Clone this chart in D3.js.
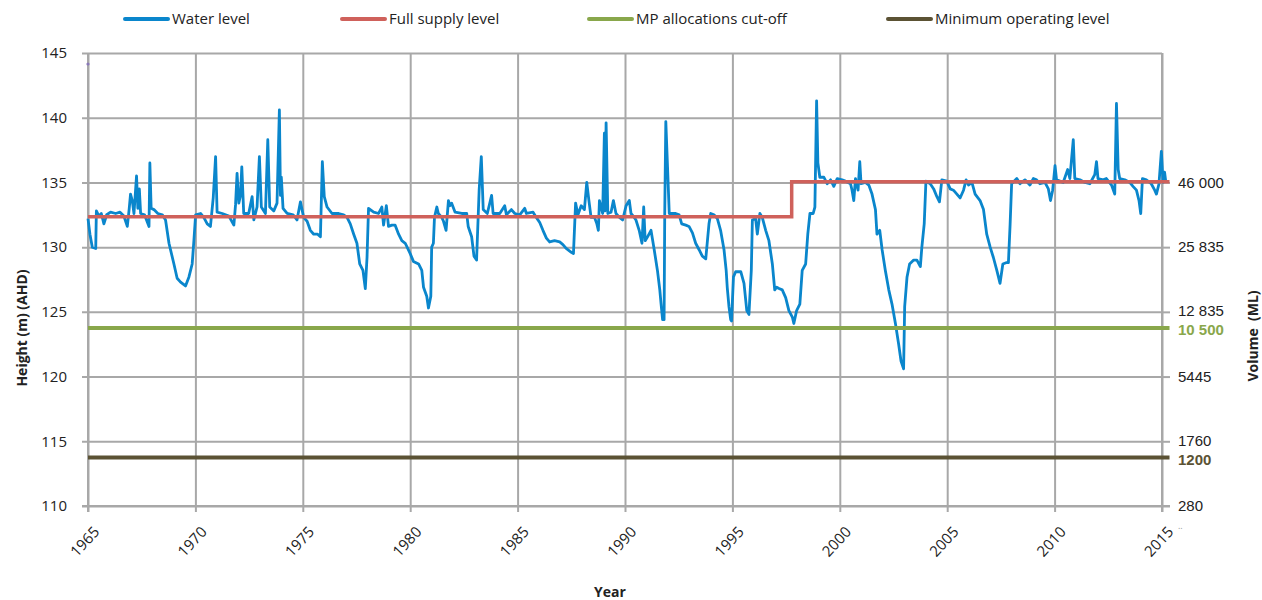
<!DOCTYPE html>
<html><head><meta charset="utf-8">
<script src="https://cdn.jsdelivr.net/npm/d3@7"></script>
<style>
body{margin:0;background:#fff;}
text{font-family:"Open Sans",sans-serif;fill:#222;}
</style>
</head><body>
<svg id="chart" width="1262" height="600"></svg>
<script>
// ---------- DATA ----------
const waterYear = [
1965.00,1965.09,1965.20,1965.36,1965.39,1965.51,1965.62,1965.74,1965.87,1966.05,1966.29,1966.49,1966.67,1966.83,1966.92,1966.98,1967.06,1967.14,1967.26,1967.32,1967.39,1967.45,1967.63,1967.84,1967.88,1967.94,1968.07,1968.25,1968.46,1968.61,1968.77,1969.00,1969.15,1969.31,1969.54,1969.70,1969.85,1969.93,1970.01,1970.24,1970.39,1970.55,1970.70,1970.83,1970.94,1971.01,1971.25,1971.56,1971.79,1971.87,1971.94,1972.02,1972.10,1972.16,1972.25,1972.48,1972.64,1972.72,1972.87,1972.98,1973.07,1973.26,1973.37,1973.46,1973.65,1973.80,1973.91,1973.96,1974.00,1974.08,1974.27,1974.55,1974.73,1974.89,1975.04,1975.20,1975.35,1975.51,1975.69,1975.82,1975.91,1976.00,1976.13,1976.36,1976.67,1976.90,1977.06,1977.21,1977.37,1977.52,1977.65,1977.80,1977.91,1977.99,1978.06,1978.30,1978.53,1978.68,1978.76,1978.89,1978.99,1979.15,1979.30,1979.46,1979.61,1979.77,
1980.00,1980.15,1980.39,1980.54,1980.62,1980.77,1980.85,1980.96,1981.00,1981.08,1981.13,1981.24,1981.31,1981.47,1981.55,1981.67,1981.78,1981.85,1981.93,1982.09,1982.40,1982.63,1982.70,1982.86,1982.97,1983.09,1983.17,1983.21,1983.31,1983.40,1983.59,1983.79,1983.86,1984.17,1984.40,1984.48,1984.71,1984.87,1985.10,1985.33,1985.41,1985.72,1985.87,1986.03,1986.18,1986.34,1986.49,1986.72,1986.96,1987.11,1987.26,1987.50,1987.60,1987.70,1987.81,1987.96,1988.11,1988.22,1988.32,1988.42,1988.58,1988.69,1988.76,1988.81,1988.96,1989.04,1989.07,1989.12,1989.20,1989.35,1989.46,1989.58,1989.74,1989.89,1990.05,1990.20,1990.28,1990.43,1990.51,1990.66,1990.79,1990.87,1990.94,1991.05,1991.21,1991.36,1991.51,1991.62,1991.68,1991.75,1991.82,1991.85,1991.90,1991.98,1992.06,1992.36,1992.52,1992.64,1992.83,1992.98,1993.14,1993.29,1993.45,1993.60,1993.76,1993.91,1993.99,1994.14,1994.30,1994.45,1994.61,1994.71,1994.76,1994.84,1994.92,1994.96,
1995.05,1995.15,1995.39,1995.54,1995.67,1995.77,1995.88,1995.93,1996.08,1996.16,1996.28,1996.39,1996.55,1996.70,1996.86,1996.97,1997.06,1997.17,1997.32,1997.48,1997.63,1997.79,1997.86,1997.99,1998.14,1998.25,1998.41,1998.51,1998.61,1998.76,1998.84,1998.92,1998.98,1999.07,1999.26,1999.41,1999.57,1999.72,1999.88,2000.11,2000.26,2000.50,2000.57,2000.65,2000.73,2000.85,2000.93,2000.99,2001.19,2001.35,2001.50,2001.66,2001.73,2001.86,2001.97,2002.12,2002.28,2002.43,2002.59,2002.74,2002.85,2002.97,2003.02,2003.13,2003.25,2003.44,2003.59,2003.75,2003.82,2003.93,2004.01,2004.21,2004.37,2004.52,2004.64,2004.75,2004.98,2005.14,2005.29,2005.45,2005.60,2005.76,2005.88,2005.99,2006.15,2006.30,2006.53,2006.69,2006.84,2007.00,2007.15,2007.31,2007.46,2007.59,2007.74,2007.85,2007.93,2008.00,2008.24,2008.39,2008.62,2008.85,2009.01,2009.16,2009.32,2009.55,2009.71,2009.81,2009.91,2010.02,2010.09,2010.40,2010.61,2010.71,2010.87,2010.94,2011.18,2011.41,2011.64,2011.87,2011.95,2012.02,2012.26,2012.41,2012.65,2012.80,2012.88,2012.96,2013.03,2013.27,2013.50,2013.65,2013.81,2013.93,2014.01,2014.09,2014.27,2014.50,2014.66,2014.74,2014.86,2014.97,2015.05,2015.12,2015.18
];
const waterLevel = [
132.2,131.0,130.0,129.9,132.8,132.4,132.6,131.8,132.5,132.7,132.6,132.7,132.4,131.6,133.0,134.1,133.6,132.6,135.5,133.0,134.5,132.6,132.5,131.6,136.5,133.0,132.9,132.6,132.5,132.1,130.3,128.7,127.6,127.3,127.0,127.7,128.7,130.5,132.5,132.6,132.3,131.8,131.6,133.8,137.0,132.7,132.6,132.4,131.7,133.3,135.7,133.4,134.0,136.2,132.6,132.6,133.9,132.1,133.1,137.0,133.1,132.6,138.3,133.1,132.8,133.4,140.6,134.0,135.4,133.0,132.6,132.5,132.1,133.5,132.3,132.0,131.3,131.0,131.0,130.8,136.6,133.9,133.1,132.6,132.6,132.5,132.3,131.8,131.0,130.3,128.7,128.2,126.8,129.2,133.0,132.7,132.6,133.1,131.7,133.2,131.6,131.7,131.7,131.0,130.5,130.3,
129.5,128.9,128.7,128.2,126.9,126.2,125.3,126.2,130.0,130.3,132.3,133.1,132.6,132.3,132.0,131.3,133.6,133.2,133.4,132.7,132.6,132.6,131.6,130.8,129.3,129.0,132.6,134.4,137.0,132.9,132.6,134.0,132.6,132.6,133.2,132.5,132.9,132.6,132.5,133.0,132.6,132.7,132.3,131.9,131.3,130.7,130.4,130.5,130.4,130.2,129.9,129.6,129.5,133.4,132.5,133.2,132.9,135.0,133.6,132.3,132.3,131.8,131.3,133.6,132.6,138.8,132.8,139.6,132.6,132.7,133.6,132.6,132.3,132.1,133.2,133.6,132.6,132.3,132.1,131.3,130.3,133.1,130.5,130.8,131.3,129.8,128.2,126.7,125.6,124.4,124.4,132.6,139.7,136.2,132.6,132.6,132.5,131.8,131.7,131.6,131.1,130.3,129.8,129.3,129.1,131.8,132.6,132.5,132.2,131.3,129.8,128.2,126.9,125.4,124.4,124.3,
127.7,128.1,128.1,127.2,125.1,124.8,128.2,132.1,132.2,131.0,132.6,132.3,131.3,130.5,128.7,126.7,126.9,126.8,126.7,126.1,125.1,124.6,124.1,125.1,125.6,128.2,128.7,131.0,132.6,132.6,133.1,141.3,136.5,135.4,135.4,134.9,135.2,134.7,135.3,135.2,135.1,134.9,134.4,133.6,135.3,134.4,136.6,134.9,135.0,134.8,134.1,132.9,131.0,131.3,129.8,128.2,126.7,125.6,124.1,122.5,121.2,120.6,125.4,127.7,128.7,129.0,129.0,128.5,130.0,131.8,135.1,134.9,134.5,133.9,133.5,135.2,135.1,134.5,134.4,134.1,133.8,134.4,135.2,134.8,135.0,134.1,133.6,132.9,131.0,130.0,129.2,128.2,127.2,128.7,128.8,128.8,131.8,134.9,135.3,134.9,135.2,134.8,135.3,135.2,134.9,135.0,134.5,133.6,134.4,136.3,135.2,135.0,136.0,135.3,138.3,135.3,135.2,135.0,134.9,135.6,136.6,135.3,135.2,135.3,134.8,134.1,141.1,136.0,135.3,135.2,135.0,134.7,134.4,133.6,132.6,135.3,135.2,134.9,134.4,134.1,134.9,137.4,135.0,135.8,135.0
];
const fslYear = [1965, 1997.76, 1997.76, 2015.35];
const fslLevel = [132.35, 132.35, 135.05, 135.05];
const refYear = [1965, 2015.35];
const cutoffLevel = [123.75, 123.75];
const minOpLevel = [113.75, 113.75];
const outlierYear = [1965.0];
const outlierLevel = [144.15];

const xTicks = [1965,1970,1975,1980,1985,1990,1995,2000,2005,2010,2015];
const yTicks = [110,115,120,125,130,135,140,145];
const volTickLevels = [110,115,120,125,130,135];
const volTickLabels = ["280","1760","5445","12 835","25 835","46 000"];
const volMarkLevels = [123.75, 113.75];
const volMarkLabels = ["10 500","1200"];
const legendLabels = ["Water level","Full supply level","MP allocations cut-off","Minimum operating level"];

// ---------- STYLE ----------
const colWater = "#0a86cc", colFsl = "#cf615b", colCut = "#89a74b", colMin = "#5b5234", colGrid = "#a8a8a8";
const pL = 88, pR = 1162, pT = 53, pB = 506;
const rightFont = "'Liberation Sans', Arial, sans-serif";

const svg = d3.select("#chart");
const x = d3.scaleLinear().domain([1965, 2015]).range([pL, pR]);
const y = d3.scaleLinear().domain([110, 145]).range([pB, pT]);

// horizontal grid + left labels
const gy = svg.append("g").attr("transform", `translate(${pR},0)`)
  .call(d3.axisLeft(y).tickValues(yTicks).tickSize(pR - 82).tickPadding(15).tickFormat(d3.format("d")));
gy.select(".domain").remove();
gy.selectAll(".tick line").attr("stroke", colGrid).attr("stroke-width", 2);
gy.selectAll(".tick text").style("font-size", "15px").attr("fill", "#222");

// vertical grid + bottom labels
const gx = svg.append("g").attr("transform", `translate(0,${pT})`)
  .call(d3.axisBottom(x).tickValues(xTicks).tickSize(pB + 6 - pT).tickFormat(d3.format("d")));
gx.select(".domain").remove();
gx.selectAll(".tick line").attr("stroke", colGrid).attr("stroke-width", 2);
gx.selectAll(".tick text")
  .style("font-size", "15px").attr("fill", "#222")
  .attr("text-anchor", "end")
  .attr("y", 0).attr("dy", "0.35em")
  .attr("transform", `translate(8,${pB + 23 - pT}) rotate(-47)`);

// axis lines
svg.append("line").attr("x1", 82).attr("x2", 1170).attr("y1", pB).attr("y2", pB).attr("stroke", colGrid).attr("stroke-width", 2);
svg.append("line").attr("x1", pL).attr("x2", pL).attr("y1", pT).attr("y2", pB + 6).attr("stroke", colGrid).attr("stroke-width", 2);
svg.append("line").attr("x1", pR).attr("x2", pR).attr("y1", pT).attr("y2", pB + 6).attr("stroke", colGrid).attr("stroke-width", 2);

// right axis
const nudge = {115: -1, 125: -1};
const gr = svg.append("g").attr("transform", `translate(${pR},0)`)
  .call(d3.axisRight(y).tickValues(volTickLevels).tickSize(8).tickPadding(8)
    .tickFormat(d => volTickLabels[volTickLevels.indexOf(d)]));
gr.select(".domain").remove();
gr.selectAll(".tick line").attr("stroke", colGrid).attr("stroke-width", 2);
gr.selectAll(".tick text").style("font-size", "15px").style("font-family", rightFont).attr("fill", "#222")
  .attr("y", d => nudge[d] || 0);

const markCols = [colCut, colMin];
svg.append("g").selectAll("text").data(volMarkLevels).join("text")
  .attr("x", pR + 16).attr("y", d => y(d) + 2).attr("dy", "0.35em")
  .style("font-size", "15px").style("font-weight", "700").style("font-family", rightFont)
  .style("fill", (d, i) => markCols[i])
  .text((d, i) => volMarkLabels[i]);

svg.append("text").attr("x", 1178).attr("y", 529).style("font-size", "9px").style("fill", "#999").text("..");

// series
const idx = d3.range(waterYear.length);
svg.append("path").attr("d", d3.line().x(i => x(waterYear[i])).y(i => y(waterLevel[i]))(idx))
  .attr("fill", "none").attr("stroke", colWater).attr("stroke-width", 2.8).attr("stroke-linejoin", "round");

svg.append("path").attr("d", d3.line().x(i => x(fslYear[i])).y(i => y(fslLevel[i]))(d3.range(fslYear.length)))
  .attr("fill", "none").attr("stroke", colFsl).attr("stroke-width", 3.5);
svg.append("path").attr("d", d3.line().x(i => x(refYear[i])).y(i => y(cutoffLevel[i]))(d3.range(refYear.length)))
  .attr("fill", "none").attr("stroke", colCut).attr("stroke-width", 4);
svg.append("path").attr("d", d3.line().x(i => x(refYear[i])).y(i => y(minOpLevel[i]))(d3.range(refYear.length)))
  .attr("fill", "none").attr("stroke", colMin).attr("stroke-width", 4);

svg.append("g").selectAll("circle").data(outlierYear).join("circle")
  .attr("cx", d => x(d)).attr("cy", (d, i) => y(outlierLevel[i])).attr("r", 1.6).attr("fill", "#8a78b8");

// legend
const legCols = [colWater, colFsl, colCut, colMin];
const legX = [125, 342, 589, 888];
const leg = svg.append("g").selectAll("g").data(legendLabels).join("g")
  .attr("transform", (d, i) => `translate(${legX[i]},19)`);
leg.append("line").attr("x1", 0).attr("x2", 43).attr("y1", 0).attr("y2", 0)
  .attr("stroke", (d, i) => legCols[i]).attr("stroke-width", 4).attr("stroke-linecap", "round");
leg.append("text").attr("x", 47).attr("y", 0).attr("dy", "0.36em").style("font-size", "15px").text(d => d);

// axis titles
svg.append("text").attr("transform", "translate(27,328) rotate(-90)").attr("text-anchor", "middle")
  .style("font-size", "14px").style("font-weight", "700").text("Height (m) (AHD)");
svg.append("text").attr("transform", "translate(1258,336) rotate(-90)").attr("text-anchor", "middle")
  .style("font-size", "14px").style("font-weight", "700").style("white-space", "pre").text("Volume  (ML)");
svg.append("text").attr("x", 610).attr("y", 597).attr("text-anchor", "middle")
  .style("font-size", "14px").style("font-weight", "700").text("Year");
</script>
</body></html>
